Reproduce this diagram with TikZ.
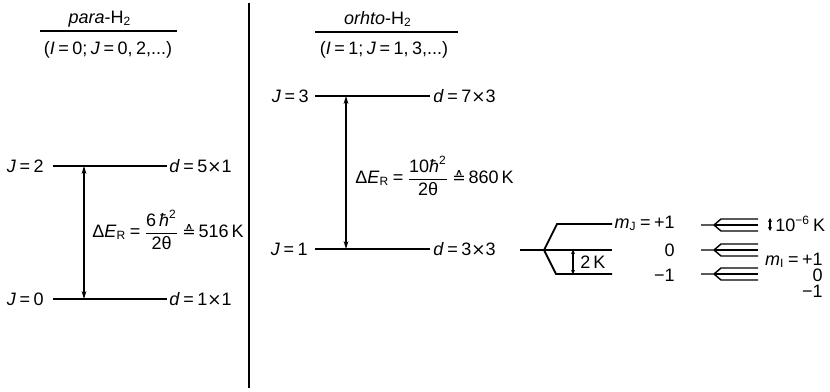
\documentclass[tikz,border=0pt]{standalone}
\usepackage{fontspec}
\setmainfont{Liberation Sans}[WordSpace=0.7]
\newfontfamily\dejavu{DejaVu Sans}
\usetikzlibrary{arrows.meta}
\newcommand{\tms}{{\dejavu\fontsize{8.5}{10}\selectfont ×}}
\begin{document}
\begin{tikzpicture}[x=0.5pt,y=-0.5pt,font=\fontsize{9}{11}\selectfont,
  lvl/.style={line width=0.9pt},
  thin lvl/.style={line width=0.7pt},
  gap/.style={line width=0.7pt,{Stealth[length=4pt,width=2.4pt]}-{Stealth[length=4pt,width=2.4pt]}},
  small gap/.style={line width=0.8pt,{Stealth[length=2pt,width=2pt]}-{Stealth[length=2pt,width=2pt]}},
  lab/.style={inner sep=0pt}]
\useasboundingbox (0,0) rectangle (830,391);
% divider
\coordinate (dtop) at (249,3);
\coordinate (dbot) at (249,388);
\draw[line width=1pt] (dtop) -- (dbot);

% ---------- para ----------
\node[lab] (paratitle) at (100,19) {\textit{para}-H\textsubscript{2}};
\coordinate (pu1) at (40,31); \coordinate (pu2) at (177,31);
\draw[thin lvl] (pu1) -- (pu2);
\node[lab] (parasub) at (108,50) {(\textit{I} = 0; \textit{J} = 0, 2,...)};

\coordinate (p2a) at (53,166); \coordinate (p2b) at (167,166);
\coordinate (p0a) at (53,299); \coordinate (p0b) at (167,299);
\draw[lvl] (p2a) -- (p2b);
\draw[lvl] (p0a) -- (p0b);
\node[lab,anchor=east] (pJ2) at (44,166) {\textit{J} = 2};
\node[lab,anchor=east] (pJ0) at (44,299) {\textit{J} = 0};
\node[lab,anchor=west] (pd2) at (169,166) {\textit{d} = 5\tms1};
\node[lab,anchor=west] (pd0) at (169,299) {\textit{d} = 1\tms1};
\coordinate (pa1) at (84,166); \coordinate (pa2) at (84,299);
\draw[gap] (pa1) -- (pa2);
\node[lab,anchor=west] (pE) at (92,230) {Δ\textit{E}\textsubscript{R} = $\displaystyle\frac{\mbox{6\,\textit{ħ}\textsuperscript{2}}}{\mbox{2θ}}$\,{\dejavu\fontsize{8}{10}\selectfont ≙}\,516\,K};

% ---------- ortho ----------
\node[lab] (orthotitle) at (378,19) {\textit{orhto}-H\textsubscript{2}};
\coordinate (ou1) at (315,32); \coordinate (ou2) at (458,32);
\draw[thin lvl] (ou1) -- (ou2);
\node[lab] (orthosub) at (384,50) {(\textit{I} = 1; \textit{J} = 1, 3,...)};

\coordinate (o3a) at (315,96); \coordinate (o3b) at (430,96);
\coordinate (o1a) at (315,249); \coordinate (o1b) at (430,249);
\draw[lvl] (o3a) -- (o3b);
\draw[lvl] (o1a) -- (o1b);
\node[lab,anchor=east] (oJ3) at (309,96) {\textit{J} = 3};
\node[lab,anchor=east] (oJ1) at (308,249) {\textit{J} = 1};
\node[lab,anchor=west] (od3) at (433,96) {\textit{d} = 7\tms3};
\node[lab,anchor=west] (od1) at (433,249) {\textit{d} = 3\tms3};
\coordinate (oa1) at (346,96); \coordinate (oa2) at (346,249);
\draw[gap] (oa1) -- (oa2);
\node[lab,anchor=west] (oE) at (355,176) {Δ\textit{E}\textsubscript{R} = $\displaystyle\frac{\mbox{10\textit{ħ}\textsuperscript{2}}}{\mbox{2θ}}$\,{\dejavu\fontsize{8}{10}\selectfont ≙}\,860\,K};

% ---------- m_J splitting ----------
\coordinate (s0) at (520,250); \coordinate (sp) at (544,250);
\coordinate (su) at (557,224); \coordinate (sue) at (612,224);
\coordinate (sme) at (612,250);
\coordinate (sd) at (556,274); \coordinate (sde) at (612,274);
\draw[lvl] (s0) -- (sp) -- (su) -- (sue);
\draw[lvl] (sp) -- (sme);
\draw[lvl] (sp) -- (sd) -- (sde);
\coordinate (k1) at (573,250); \coordinate (k2) at (573,274);
\draw[small gap] (k1) -- (k2);
\node[lab,anchor=west] (twoK) at (580,262) {2\,K};
\node[lab,anchor=east] (mj1) at (675,223) {\textit{m}\textsubscript{J} = +1};
\node[lab,anchor=east] (mj0) at (675,250) {0};
\node[lab,anchor=east] (mjm) at (675,275) {−1};

% ---------- hyperfine ----------
\foreach \c/\n in {225/a,250/b,274/c}{
  \coordinate (h\n0) at (701,\c);
  \coordinate (h\n1) at (714,\c);
  \coordinate (h\n2) at (721,\c-6);
  \coordinate (h\n3) at (758,\c-6);
  \coordinate (h\n4) at (758,\c);
  \coordinate (h\n5) at (721,\c+6);
  \coordinate (h\n6) at (758,\c+6);
  \draw[thin lvl] (h\n0) -- (h\n1) -- (h\n2) -- (h\n3);
  \draw[thin lvl] (h\n1) -- (h\n4);
  \draw[thin lvl] (h\n1) -- (h\n5) -- (h\n6);
}
\coordinate (t1) at (770,218); \coordinate (t2) at (770,231);
\draw[small gap] (t1) -- (t2);
\node[lab,anchor=west] (tiny) at (775,224) {10\textsuperscript{−6}\,K};
\node[lab,anchor=north east,align=right,font=\fontsize{9}{7.9}\selectfont] (mi) at (823,253) {\textit{m}\textsubscript{I} = +1\\0\\−1};
\end{tikzpicture}
\end{document}
